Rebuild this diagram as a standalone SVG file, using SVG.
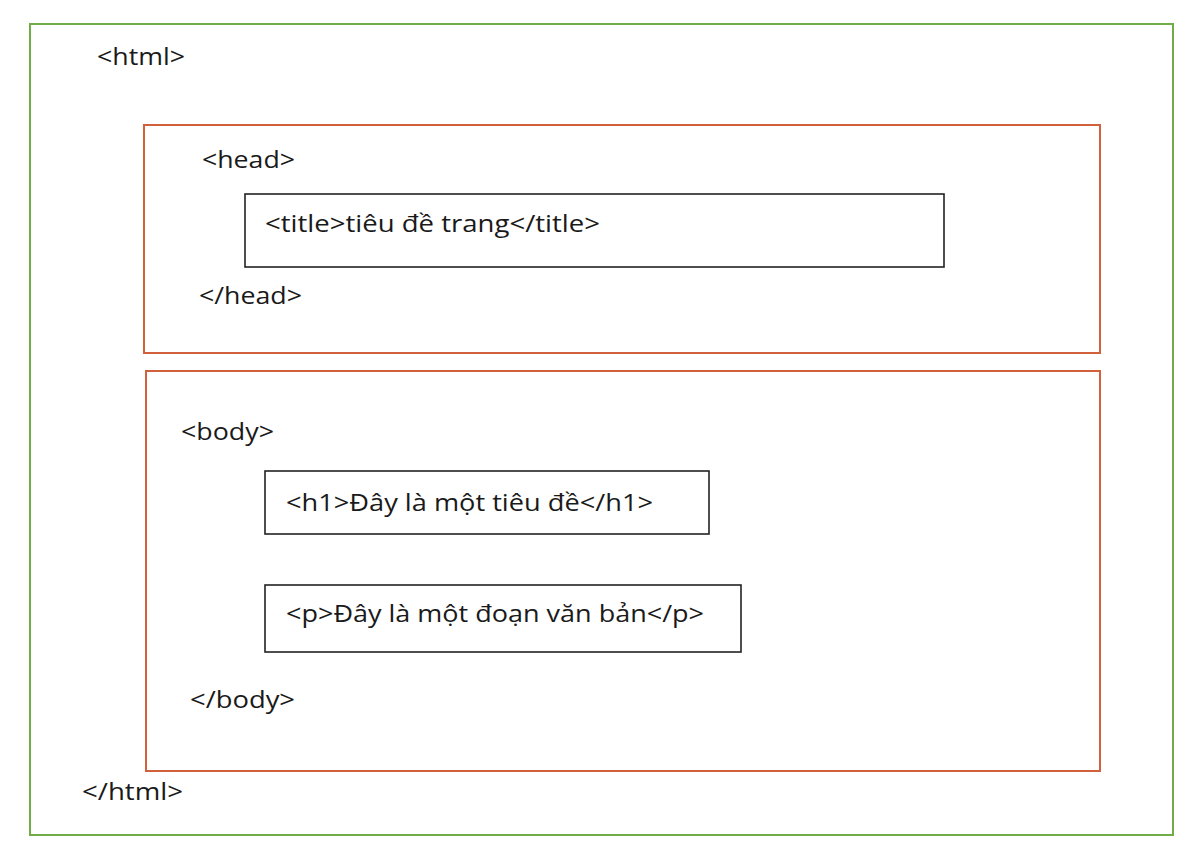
<svg xmlns="http://www.w3.org/2000/svg" width="1200" height="857" viewBox="0 0 1200 857">
<style>
.t{font-family:"Open Sans","Noto Sans","DejaVu Sans",sans-serif;font-size:24px;fill:#1a1a1a}
.g{fill:none;stroke:#70ad47;stroke-width:2}
.o{fill:none;stroke:#d0613a;stroke-width:2}
.k{fill:#fff;stroke:#222;stroke-width:1.6}
</style>
<rect width="1200" height="857" fill="#fff"/>
<g id="html">
<rect class="g" x="30" y="24" width="1143" height="811"/>
<text class="t" x="97" y="65" textLength="88" lengthAdjust="spacingAndGlyphs">&lt;html&gt;</text>
<text class="t" x="82" y="800" textLength="101" lengthAdjust="spacingAndGlyphs">&lt;/html&gt;</text>
</g>
<g id="head">
<rect class="o" x="144" y="125" width="956" height="228"/>
<text class="t" x="202" y="168" textLength="93" lengthAdjust="spacingAndGlyphs">&lt;head&gt;</text>
<text class="t" x="199" y="304" textLength="103" lengthAdjust="spacingAndGlyphs">&lt;/head&gt;</text>
</g>
<g id="title">
<rect class="k" x="245" y="194" width="699" height="73"/>
<text class="t" x="265" y="232" textLength="335" lengthAdjust="spacingAndGlyphs">&lt;title&gt;tiêu đề trang&lt;/title&gt;</text>
</g>
<g id="body">
<rect class="o" x="146" y="371" width="954" height="400"/>
<text class="t" x="181" y="440" textLength="93" lengthAdjust="spacingAndGlyphs">&lt;body&gt;</text>
<text class="t" x="190" y="708" textLength="105" lengthAdjust="spacingAndGlyphs">&lt;/body&gt;</text>
</g>
<g id="h1">
<rect class="k" x="265" y="471" width="444" height="63"/>
<text class="t" x="286" y="511" textLength="367" lengthAdjust="spacingAndGlyphs">&lt;h1&gt;Đây là một tiêu đề&lt;/h1&gt;</text>
</g>
<g id="p">
<rect class="k" x="265" y="585" width="476" height="67"/>
<text class="t" x="286" y="622" textLength="418" lengthAdjust="spacingAndGlyphs">&lt;p&gt;Đây là một đoạn văn bản&lt;/p&gt;</text>
</g>
<g id="connectors"/>
</svg>
